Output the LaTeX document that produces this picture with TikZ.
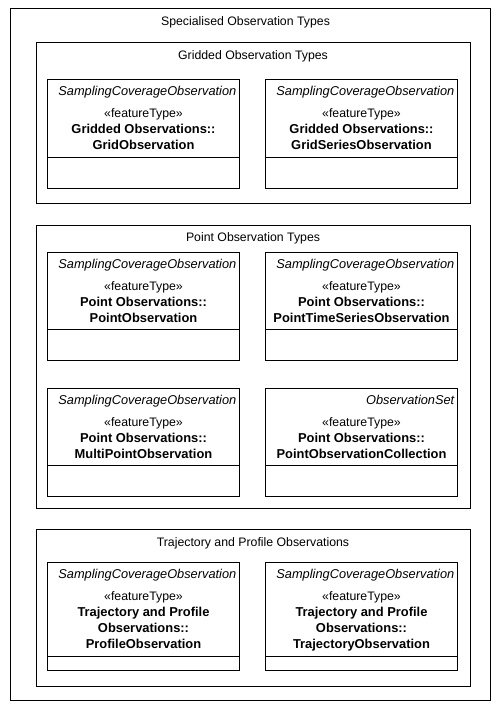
\documentclass[tikz,border=0pt]{standalone}
\usepackage{fontspec}
\setmainfont{Liberation Sans}
\usetikzlibrary{calc}
\begin{document}
\begin{tikzpicture}[x=1pt,y=-1pt,
  frame/.style={draw=black,line width=1pt,fill=none,inner sep=0pt,outer sep=0pt,anchor=north west},
  pkgtitle/.style={anchor=base,inner sep=0pt,font=\fontsize{12.3}{14}\selectfont},
  supername/.style={anchor=base east,inner sep=0pt,font=\fontsize{12.8}{14}\selectfont\itshape},
  stereo/.style={anchor=base,inner sep=0pt,font=\fontsize{12.3}{14}\selectfont},
  cname/.style={anchor=base,inner sep=0pt,font=\fontsize{12.9}{14}\selectfont\bfseries},
  divider/.style={draw=black,line width=1pt}]
\useasboundingbox (0,0) rectangle (501,712);
\fill[white] (0,0) rectangle (501,712);

% outer package
\node[frame,minimum width=480pt,minimum height=692pt] (outer) at (10,8) {};
\node[pkgtitle] (outerT) at (245.5,25) {Specialised Observation Types};

% packages
\node[frame,minimum width=434pt,minimum height=161pt] (grid) at (36,42) {};
\node[pkgtitle] (gridT) at (253,59) {Gridded Observation Types};
\node[frame,minimum width=434pt,minimum height=283pt] (point) at (36,225) {};
\node[pkgtitle] (pointT) at (253,241) {Point Observation Types};
\node[frame,minimum width=434pt,minimum height=157pt] (traj) at (36,529) {};
\node[pkgtitle] (trajT) at (253,546) {Trajectory and Profile Observations};

% class boxes
\newcommand{\classbox}[6]{%
  % #1 name, #2 x, #3 y, #4 height, #5 divider offset, #6 supertype
  \node[frame,minimum width=192pt,minimum height=#4pt] (#1) at (#2,#3) {};
  \coordinate (#1dl) at ($(#2,#3)+(0,#5)$);
  \coordinate (#1dr) at ($(#2,#3)+(192,#5)$);
  \draw[divider] (#1dl) -- (#1dr);
  \node[supername] (#1S) at ($(#2,#3)+(189.5,16)$) {#6};
  \node[stereo] (#1K) at ($(#2,#3)+(96.5,38)$) {«featureType»};
}

\classbox{c1}{47}{79}{109}{78}{SamplingCoverageObservation}
\node[cname] at ($(47,79)+(96.5,54)$) {Gridded Observations::};
\node[cname] at ($(47,79)+(96.5,70)$) {GridObservation};

\classbox{c2}{265}{79}{109}{78}{SamplingCoverageObservation}
\node[cname] at ($(265,79)+(96.5,54)$) {Gridded Observations::};
\node[cname] at ($(265,79)+(96.5,70)$) {GridSeriesObservation};

\classbox{c3}{47}{252}{108}{77.5}{SamplingCoverageObservation}
\node[cname] at ($(47,252)+(96.5,54)$) {Point Observations::};
\node[cname] at ($(47,252)+(96.5,70)$) {PointObservation};

\classbox{c4}{265}{252}{108}{77.5}{SamplingCoverageObservation}
\node[cname] at ($(265,252)+(96.5,54)$) {Point Observations::};
\node[cname] at ($(265,252)+(96.5,70)$) {PointTimeSeriesObservation};

\classbox{c5}{47}{388}{108}{77.5}{SamplingCoverageObservation}
\node[cname] at ($(47,388)+(96.5,54)$) {Point Observations::};
\node[cname] at ($(47,388)+(96.5,70)$) {MultiPointObservation};

\classbox{c6}{265}{388}{108}{77.5}{ObservationSet}
\node[cname] at ($(265,388)+(96.5,54)$) {Point Observations::};
\node[cname] at ($(265,388)+(96.5,70)$) {PointObservationCollection};

\classbox{c7}{47}{562}{108}{94}{SamplingCoverageObservation}
\node[cname] at ($(47,562)+(96.5,54)$) {Trajectory and Profile};
\node[cname] at ($(47,562)+(96.5,70)$) {Observations::};
\node[cname] at ($(47,562)+(96.5,86)$) {ProfileObservation};

\classbox{c8}{265}{562}{108}{94}{SamplingCoverageObservation}
\node[cname] at ($(265,562)+(96.5,54)$) {Trajectory and Profile};
\node[cname] at ($(265,562)+(96.5,70)$) {Observations::};
\node[cname] at ($(265,562)+(96.5,86)$) {TrajectoryObservation};
\end{tikzpicture}
\end{document}
